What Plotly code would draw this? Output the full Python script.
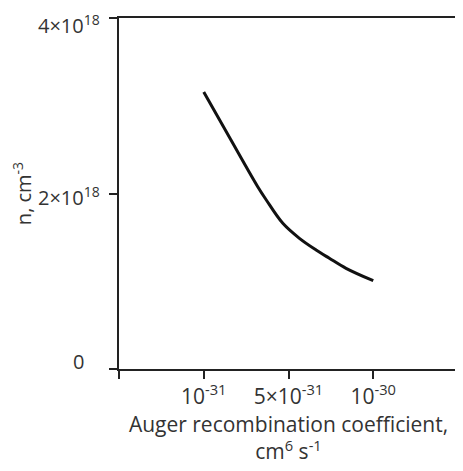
import plotly.graph_objects as go

# x positions are ordinal tick positions (0..4); labels on ticks 1..3
x_pos = [1.0, 1.318, 1.635, 1.738, 1.933, 2.129, 2.326, 2.482, 2.679, 3.0]
n_vals = [3.157e18, 2.615e18, 2.080e18, 1.926e18, 1.660e18, 1.489e18, 1.356e18, 1.262e18, 1.147e18, 1.006e18]

x_tickvals = [0, 1, 2, 3, 4]
x_ticktext = ["", "10<sup>-31</sup>", "5×10<sup>-31</sup>", "10<sup>-30</sup>", ""]
y_tickvals = [0, 2e18, 4e18]
y_ticktext = ["0", "2×10<sup>18</sup>", "4×10<sup>18</sup>"]

fig = go.Figure()
fig.add_trace(go.Scatter(x=x_pos, y=n_vals, mode="lines", line=dict(color="#111111", width=3, shape="spline", smoothing=1.0),
                         showlegend=False, hoverinfo="skip"))

# y tick labels as annotations (individually offset as in the reference)
label_shift = {0: (-33, 8), 2e18: (-17, -3), 4e18: (-17, -6)}
for v, t in zip(y_tickvals, y_ticktext):
    xs, ys = label_shift[v]
    fig.add_annotation(x=0, xref="paper", y=v, yref="y", text=t, showarrow=False,
                       xanchor="right", yanchor="middle", xshift=xs, yshift=ys,
                       font=dict(size=20, color="#333333"))

font_family = "Open Sans, sans-serif"
fig.update_layout(
    width=455, height=463,
    margin=dict(l=111, r=5, t=10, b=102, autoexpand=False),
    paper_bgcolor="white", plot_bgcolor="white",
    font=dict(family=font_family, color="#333333", size=21),
    xaxis=dict(range=[0, 4], tickvals=x_tickvals, ticktext=x_ticktext, showgrid=False, zeroline=False,
               showline=True, linecolor="#222222", linewidth=2, mirror=True,
               ticks="outside", ticklen=8, tickwidth=2, tickcolor="#222222",
               tickfont=dict(size=21), automargin=False, ticklabeloverflow="allow",
               title=dict(text="Auger recombination coefficient,<br>cm<sup>6</sup>&nbsp;s<sup>-1</sup>", font=dict(size=21), standoff=6)),
    yaxis=dict(range=[0, 4e18], tickvals=y_tickvals, showticklabels=False, showgrid=False, zeroline=False,
               showline=True, linecolor="#222222", linewidth=2, mirror=True,
               ticks="outside", ticklen=8, tickwidth=2, tickcolor="#222222",
               automargin=False,
               title=dict(text="n,&nbsp;cm<sup>-3</sup>", font=dict(size=20), standoff=76)),
)
fig.write_html("out.html")
